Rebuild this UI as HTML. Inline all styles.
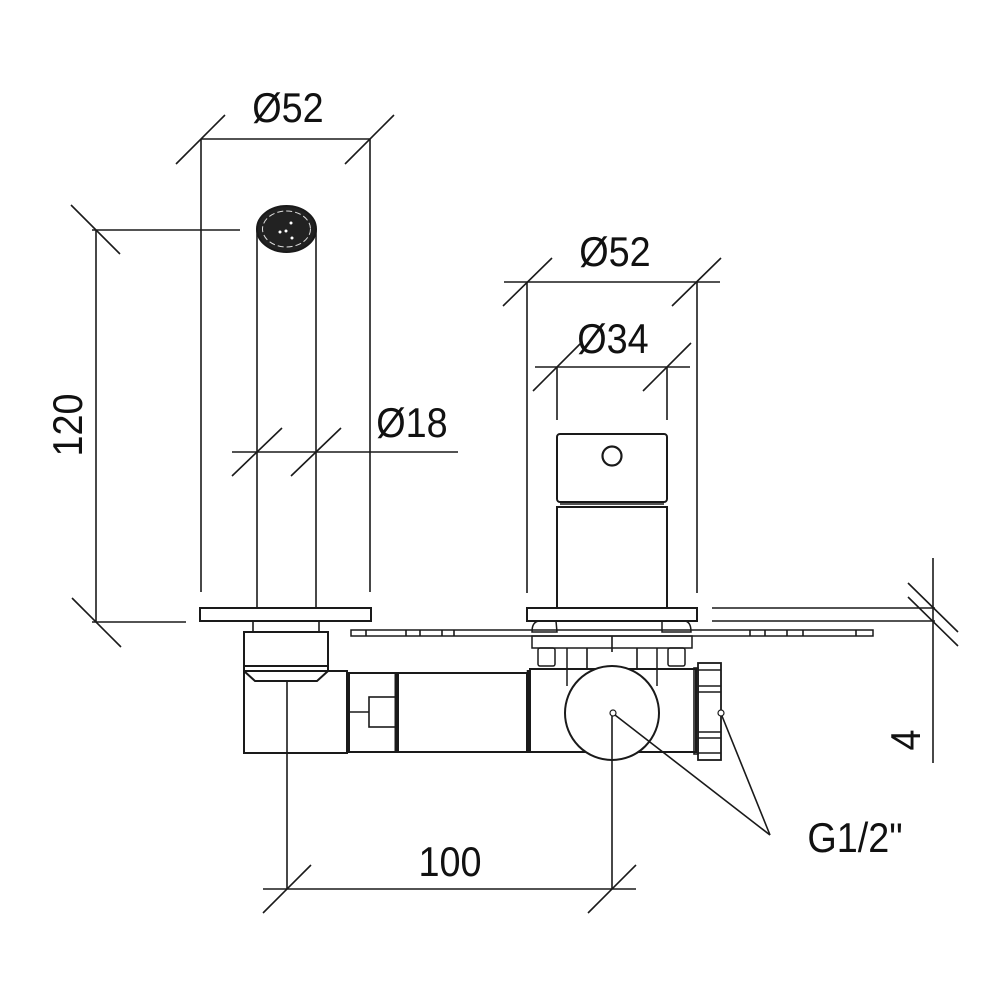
<!DOCTYPE html>
<html><head><meta charset="utf-8"><style>
html,body{margin:0;padding:0;background:#fff}
svg{display:block}
text{font-family:"Liberation Sans",sans-serif;fill:#111}
</style></head><body>
<svg width="1000" height="1000" viewBox="0 0 1000 1000" xmlns="http://www.w3.org/2000/svg">
<g stroke="#1a1a1a" fill="none" stroke-width="1.6">
<!-- Dim Ø52 left -->
<line x1="201" y1="139" x2="370" y2="139"/>
<line x1="176" y1="164" x2="225" y2="115"/>
<line x1="345" y1="164" x2="394" y2="115"/>
<line x1="201" y1="139" x2="201" y2="592"/>
<line x1="370" y1="139" x2="370" y2="592"/>
<!-- 120 -->
<line x1="92" y1="230" x2="240" y2="230"/>
<line x1="96" y1="230" x2="96" y2="622"/>
<line x1="92" y1="622" x2="186" y2="622"/>
<line x1="71" y1="205" x2="120" y2="254"/>
<line x1="72" y1="598" x2="121" y2="647"/>
<!-- Ø18 -->
<line x1="232" y1="452" x2="458" y2="452"/>
<line x1="232" y1="476" x2="282" y2="428"/>
<line x1="291" y1="476" x2="341" y2="428"/>
<!-- spout -->
<line x1="257" y1="229" x2="257" y2="608"/>
<line x1="316" y1="229" x2="316" y2="608"/>
<ellipse cx="286.5" cy="229" rx="29.5" ry="23" fill="#222" stroke-width="2"/>
<ellipse cx="286.5" cy="229" rx="24" ry="18" stroke="#ddd" stroke-width="1" stroke-dasharray="6 3"/>
<circle cx="280" cy="232" r="1.5" fill="#fff" stroke="none"/>
<circle cx="286" cy="231" r="1.5" fill="#fff" stroke="none"/>
<circle cx="291" cy="223" r="1.5" fill="#fff" stroke="none"/>
<circle cx="292" cy="238" r="1.5" fill="#fff" stroke="none"/>
<rect x="200" y="608" width="171" height="13" stroke-width="2"/>
<rect x="253" y="621" width="66" height="11"/>
<rect x="244" y="632" width="84" height="34" stroke-width="2"/>
<path d="M244 666 L244 671 L255 681 L317 681 L328 671 L328 666" stroke-width="2"/>
<!-- elbow body -->
<rect x="244" y="671" width="103" height="82" stroke-width="2"/>
<rect x="349" y="673" width="47" height="79" stroke-width="2"/>
<rect x="369" y="697" width="27" height="30"/>
<line x1="349" y1="712" x2="369" y2="712"/>
<line x1="396" y1="673" x2="396" y2="752" stroke-width="3"/>
<rect x="398" y="673" width="129" height="79" stroke-width="2"/>
<line x1="528" y1="670" x2="528" y2="753" stroke-width="2.5"/>
<rect x="530" y="669" width="166" height="83" stroke-width="2"/>
<!-- brackets -->
<path d="M567 648 L567 686 M657 648 L657 686" stroke-width="1.5"/>
<path d="M587 648 L587 670 M637 648 L637 670 M612 636 L612 652"/>
<rect x="532" y="636" width="160" height="12" stroke-width="1.5"/>
<rect x="538" y="648" width="17" height="18" rx="2" stroke-width="1.5"/>
<rect x="668" y="648" width="17" height="18" rx="2" stroke-width="1.5"/>
<path d="M532 632 Q532 621 540 621 L556 621 L557 632 Z M662 621 L684 621 Q691 621 691 632 L662 632 Z" stroke-width="1.5"/>
<!-- valve knob -->
<circle cx="612" cy="713" r="47" fill="#fff" stroke-width="2"/>
<path d="M570 692 A47 47 0 0 1 654 692" stroke-width="1"/>
<circle cx="613" cy="713" r="3" stroke-width="1.2"/>
<!-- right nut -->
<rect x="694" y="668" width="4" height="86"/>
<rect x="698" y="663" width="23" height="97" stroke-width="1.8"/>
<line x1="698" y1="670" x2="721" y2="670"/>
<line x1="698" y1="686" x2="721" y2="686"/>
<line x1="698" y1="692" x2="721" y2="692"/>
<line x1="698" y1="732" x2="721" y2="732"/>
<line x1="698" y1="738" x2="721" y2="738"/>
<line x1="698" y1="753" x2="721" y2="753"/>
<circle cx="721" cy="713" r="3" stroke-width="1.2" fill="#fff"/>
<!-- wall plate -->
<rect x="351" y="630" width="522" height="6" stroke-width="1.5"/>
<path d="M366 630 V636 M406 630 V636 M420 630 V636 M442 630 V636 M454 630 V636 M750 630 V636 M765 630 V636 M787 630 V636 M803 630 V636 M856 630 V636"/>
<!-- handle -->
<rect x="527" y="608" width="170" height="13" stroke-width="2"/>
<rect x="557" y="434" width="110" height="68" rx="3" stroke-width="2"/>
<rect x="557" y="507" width="110" height="101" stroke-width="2"/>
<line x1="560" y1="504" x2="664" y2="504"/>
<circle cx="612" cy="456" r="9.5" stroke-width="2.2"/>
<!-- Ø52 right -->
<line x1="504" y1="282" x2="720" y2="282"/>
<line x1="503" y1="306" x2="552" y2="258"/>
<line x1="672" y1="306" x2="721" y2="258"/>
<line x1="527" y1="282" x2="527" y2="593"/>
<line x1="697" y1="282" x2="697" y2="593"/>
<!-- Ø34 -->
<line x1="535" y1="367" x2="690" y2="367"/>
<line x1="533" y1="391" x2="581" y2="343"/>
<line x1="643" y1="391" x2="691" y2="343"/>
<line x1="557" y1="367" x2="557" y2="420"/>
<line x1="667" y1="367" x2="667" y2="420"/>
<!-- 4 dim -->
<line x1="712" y1="608" x2="935" y2="608"/>
<line x1="712" y1="621" x2="935" y2="621"/>
<line x1="933" y1="558" x2="933" y2="763"/>
<line x1="908" y1="583" x2="958" y2="632"/>
<line x1="908" y1="597" x2="958" y2="646"/>
<!-- 100 -->
<line x1="287" y1="682" x2="287" y2="889"/>
<line x1="612" y1="716" x2="612" y2="889"/>
<line x1="263" y1="889" x2="636" y2="889"/>
<line x1="263" y1="913" x2="311" y2="865"/>
<line x1="588" y1="913" x2="636" y2="865"/>
<!-- leaders -->
<line x1="615" y1="715" x2="770" y2="835"/>
<line x1="722" y1="716" x2="770" y2="835"/>
</g>
<g font-size="42">
<text x="288" y="122" text-anchor="middle" transform="translate(288 0) scale(0.9 1) translate(-288 0)">Ø52</text>
<text x="615" y="266" text-anchor="middle" transform="translate(615 0) scale(0.9 1) translate(-615 0)">Ø52</text>
<text x="613" y="353" text-anchor="middle" transform="translate(613 0) scale(0.9 1) translate(-613 0)">Ø34</text>
<text x="412" y="437" text-anchor="middle" transform="translate(412 0) scale(0.9 1) translate(-412 0)">Ø18</text>
<text x="450" y="876" text-anchor="middle" transform="translate(450 0) scale(0.9 1) translate(-450 0)">100</text>
<text x="855" y="852" text-anchor="middle" transform="translate(855 0) scale(0.9 1) translate(-855 0)">G1/2"</text>
<text transform="translate(82 425) rotate(-90) scale(0.9 1)" text-anchor="middle">120</text>
<text transform="translate(920 740) rotate(-90) scale(0.9 1)" text-anchor="middle">4</text>
</g>
</svg>
</body></html>
